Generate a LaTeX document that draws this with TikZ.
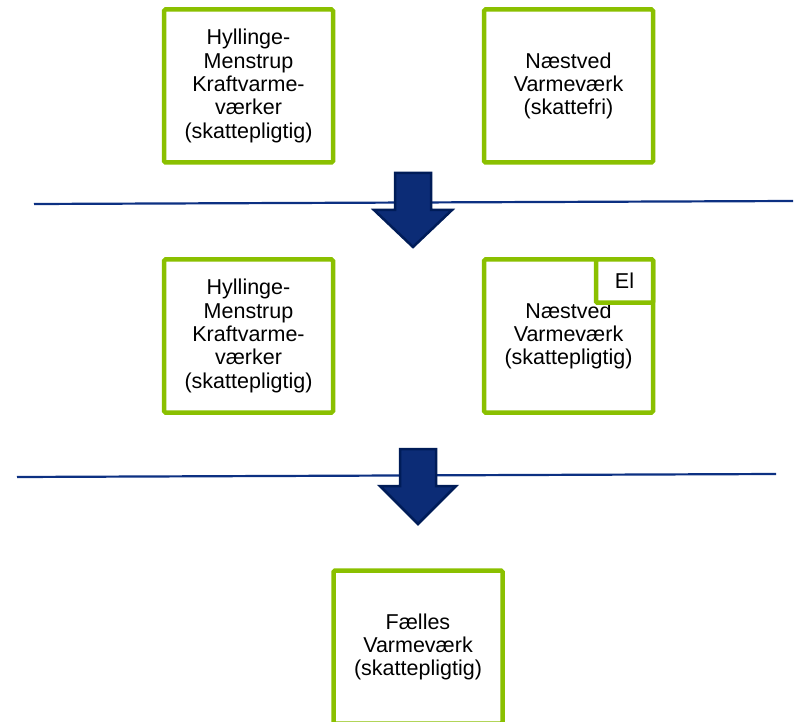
\documentclass[tikz,border=0pt]{standalone}
\usepackage{fontspec}
\setmainfont{Liberation Sans}
\definecolor{boxgreen}{RGB}{138,192,0}
\definecolor{linenavy}{RGB}{12,48,130}
\definecolor{arrowfill}{RGB}{12,44,118}
\definecolor{arrowedge}{RGB}{0,28,88}
\tikzset{
  plantbox/.style={draw=boxgreen, line width=4.5pt, fill=white, rounded corners=1.5pt,
    minimum width=169pt, minimum height=153pt, inner sep=0pt, align=center,
    font=\fontsize{21.5}{23.3}\selectfont},
  elbox/.style={draw=boxgreen, line width=4.5pt, fill=white, rounded corners=1pt,
    minimum width=57pt, minimum height=43pt, inner sep=0pt,
    font=\fontsize{21.5}{23.3}\selectfont},
  sepline/.style={draw=linenavy, line width=2.2pt},
  blockarrow/.style={fill=arrowfill, draw=arrowedge, line width=2.5pt, line join=miter}
}
\begin{document}
\begin{tikzpicture}[x=1pt,y=-1pt]
\useasboundingbox (0,0) rectangle (798,722);
\clip (0,0) rectangle (798,722);
% separator lines
\coordinate (l1a) at (34,204);
\coordinate (l1b) at (793,201);
\coordinate (l2a) at (17,477);
\coordinate (l2b) at (776,474);
\draw[sepline] (l1a) -- (l1b);
\draw[sepline] (l2a) -- (l2b);
% block arrows
\draw[blockarrow] (395,173) -- (431,173) -- (431,210) -- (452,210) -- (413,247) -- (374,210) -- (395,210) -- cycle;
\draw[blockarrow] (400,449) -- (436,449) -- (436,486) -- (456,486) -- (418,524) -- (380,486) -- (400,486) -- cycle;
% top row
\node[plantbox] (hm1) at (248.5,86) {Hyllinge-\\Menstrup\\Kraftvarme-\\værker\\(skattepligtig)};
\node[plantbox] (nv1) at (568.5,86) {Næstved\\Varmeværk\\(skattefri)};
% middle row
\node[plantbox] (hm2) at (248.5,336) {Hyllinge-\\Menstrup\\Kraftvarme-\\værker\\(skattepligtig)};
\node[plantbox] (nv2) at (568.5,336) {Næstved\\Varmeværk\\(skattepligtig)};
\node[elbox] (el) at (624.5,281) {El};
% bottom
\node[plantbox] (fv) at (418,647) {Fælles\\Varmeværk\\(skattepligtig)};
\end{tikzpicture}
\end{document}
